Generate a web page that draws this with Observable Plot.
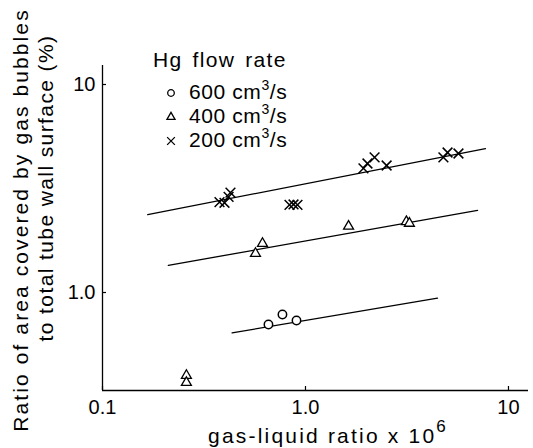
<!DOCTYPE html>
<html><head><meta charset="utf-8">
<script src="https://cdn.jsdelivr.net/npm/d3@7"></script>
<script src="https://cdn.jsdelivr.net/npm/@observablehq/plot@0.6"></script>
<style>
body{margin:0;background:#fff;}
#wrap{position:relative;width:533px;height:448px;}
#overlay{position:absolute;left:0;top:0;pointer-events:none;}
</style></head><body>
<div id="wrap"><div id="chart"></div><svg id="overlay" width="533" height="448"></svg></div>
<script>
// ---- data ----
const x200 = [0.377, 0.399, 0.418, 0.427, 0.834, 0.873, 0.913, 1.93, 2.02, 2.19, 2.51, 4.78, 5.01, 5.67];
const y200 = [2.72, 2.70, 2.88, 3.02, 2.64, 2.65, 2.64, 3.95, 4.17, 4.46, 4.08, 4.46, 4.71, 4.66];
const x400 = [0.259, 0.259, 0.567, 0.614, 1.63, 3.14, 3.25];
const y400 = [0.399, 0.369, 1.54, 1.72, 2.08, 2.19, 2.15];
const x600 = [0.657, 0.77, 0.903];
const y600 = [0.702, 0.784, 0.733];
const fitX200 = [0.167, 7.7], fitY200 = [2.37, 4.92];
const fitX400 = [0.211, 7.04], fitY400 = [1.35, 2.48];
const fitX600 = [0.435, 4.47], fitY600 = [0.64, 0.94];
const xTicks = [0.1, 1, 10], xTickLabels = ["0.1", "1.0", "10"];
const yTicks = [1, 10], yTickLabels = ["1.0", "10"];
const xDomain = [0.1, 12.55], yDomain = [0.338, 12.34];
const legendTitle = "Hg flow rate";
const legendRates = ["600", "400", "200"];
const legendSymbols = ["circle", "triangle", "times"];
const legendUnit = ["cm", "3", "/s"];
const yTitle = ["Ratio of area covered by gas bubbles", "to total tube wall surface (%)"];
const xTitle = ["gas-liquid ratio x 10", "6"];

const pts = (xs, ys) => xs.map((x, i) => ({x, y: ys[i]}));
const font = '"Liberation Sans", Arial, sans-serif';
const tickFont = '"Liberation Sans Narrow", "Liberation Sans", Arial, sans-serif';

const chart = Plot.plot({
  width: 533, height: 448,
  marginLeft: 102, marginRight: 5, marginTop: 65, marginBottom: 58,
  style: {fontFamily: font, color: "black", background: "white", overflow: "visible"},
  x: {type: "log", domain: xDomain},
  y: {type: "log", domain: yDomain},
  marks: [
    Plot.ruleX([xDomain[0]], {stroke: "black", strokeWidth: 1.3}),
    Plot.ruleY([yDomain[0]], {stroke: "black", strokeWidth: 1.3}),
    Plot.axisX({ticks: xTicks, tickFormat: d => xTickLabels[xTicks.indexOf(d)], tickSize: -4, tickPadding: 13,
      label: null, fontSize: 20, fontFamily: tickFont, strokeWidth: 1.2}),
    Plot.axisY({ticks: yTicks, tickFormat: d => yTickLabels[yTicks.indexOf(d)], tickSize: -4, tickPadding: 11,
      label: null, fontSize: 20, fontFamily: tickFont, strokeWidth: 1.2}),
    Plot.line(pts(fitX200, fitY200), {x: "x", y: "y", stroke: "black", strokeWidth: 1.3}),
    Plot.line(pts(fitX400, fitY400), {x: "x", y: "y", stroke: "black", strokeWidth: 1.3}),
    Plot.line(pts(fitX600, fitY600), {x: "x", y: "y", stroke: "black", strokeWidth: 1.3}),
    Plot.dot(pts(x200, y200), {x: "x", y: "y", symbol: "times", r: 4.5, stroke: "black", strokeWidth: 1.5}),
    Plot.dot(pts(x400, y400), {x: "x", y: "y", symbol: "triangle", r: 3.7, stroke: "black", fill: "white", strokeWidth: 1.3}),
    Plot.dot(pts(x600, y600), {x: "x", y: "y", symbol: "circle", r: 4.2, stroke: "black", fill: "white", strokeWidth: 1.5}),
    Plot.text([yTitle[0]], {frameAnchor: "left", textAnchor: "middle", lineAnchor: "middle", rotate: -90,
      dx: -81, dy: -8, fontSize: 21, fill: "black"}),
    Plot.text([yTitle[1]], {frameAnchor: "left", textAnchor: "middle", lineAnchor: "middle", rotate: -90,
      dx: -56, dy: -40, fontSize: 21, fill: "black"})
  ]
});
document.getElementById("chart").appendChild(chart);
// letter spacing on y titles
d3.select(chart).selectAll("text").filter(function(){ return this.textContent === yTitle[0]; }).style("letter-spacing", "2.1px");
d3.select(chart).selectAll("text").filter(function(){ return this.textContent === yTitle[1]; }).style("letter-spacing", "1.4px");

// ---- overlay: legend + x title ----
const ov = d3.select("#overlay").style("font-family", font);
ov.append("text").attr("x", 153).attr("y", 67).attr("font-size", 21)
  .style("letter-spacing", "1.3px").style("word-spacing", "3px").text(legendTitle);
const rowBase = [99, 123, 147];
legendRates.forEach((r, i) => {
  const sym = {circle: d3.symbolCircle, triangle: d3.symbolTriangle, times: d3.symbolTimes}[legendSymbols[i]];
  const size = legendSymbols[i] === "circle" ? Math.PI * 3.3 * 3.3 : legendSymbols[i] === "triangle" ? Math.PI * 3 * 3 : Math.PI * 3.6 * 3.6;
  ov.append("path").attr("d", d3.symbol(sym, size)())
    .attr("transform", `translate(171,${rowBase[i] - 6})`)
    .attr("fill", "none").attr("stroke", "black").attr("stroke-width", 1.3);
  const t = ov.append("text").attr("x", 189).attr("y", rowBase[i]).attr("font-size", 21).style("letter-spacing", "0.6px");
  t.append("tspan").text(r + " " + legendUnit[0]);
  t.append("tspan").attr("dy", -9).attr("font-size", 14).text(legendUnit[1]);
  t.append("tspan").attr("dy", 9).text(legendUnit[2]);
});
const xt = ov.append("text").attr("x", 208).attr("y", 443).attr("font-size", 21).style("letter-spacing", "2.2px");
xt.append("tspan").text(xTitle[0]);
xt.append("tspan").attr("dy", -11).attr("font-size", 17).text(xTitle[1]);
</script>
</body></html>
